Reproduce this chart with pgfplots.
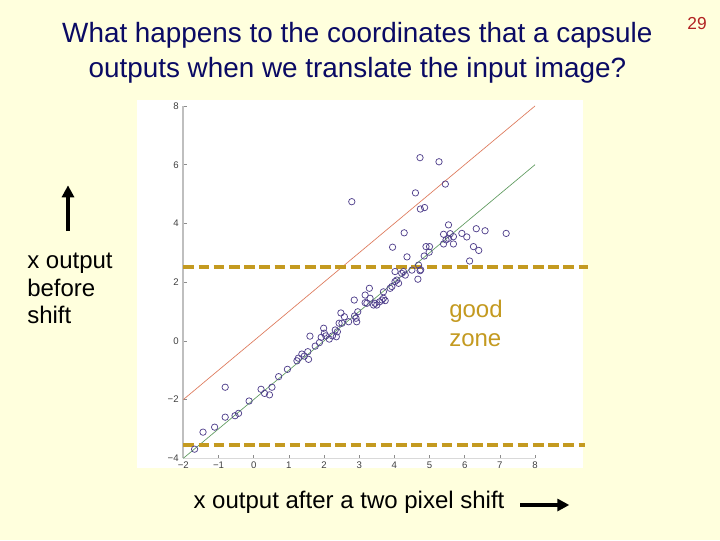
\documentclass[border=0pt]{standalone}
\usepackage{fontspec}
\setmainfont{Liberation Sans}
\usepackage{pgfplots}
\pgfplotsset{compat=1.18}
\usetikzlibrary{arrows.meta}
\definecolor{slidebg}{RGB}{255,255,221}
\definecolor{gold}{RGB}{196,154,32}
\definecolor{navy}{RGB}{10,10,100}
\definecolor{pagered}{RGB}{178,34,34}
\definecolor{ptcol}{RGB}{80,64,140}
\definecolor{redline}{RGB}{222,122,92}
\definecolor{greenline}{RGB}{95,155,95}

\pgfplotstableread{
x y
-1.68 -3.69
-1.44 -3.11
-1.11 -2.94
-0.81 -1.58
-0.81 -2.60
-0.53 -2.55
-0.43 -2.47
-0.13 -2.05
0.21 -1.65
0.31 -1.79
0.45 -1.84
0.52 -1.58
0.71 -1.22
0.96 -0.97
1.23 -0.68
1.27 -0.59
1.37 -0.45
1.44 -0.52
1.54 -0.37
1.56 -0.63
1.60 0.16
1.75 -0.18
1.87 -0.06
1.92 0.12
1.99 0.43
2.01 0.26
2.05 0.17
2.15 0.06
2.24 0.17
2.32 0.37
2.35 0.14
2.38 0.31
2.43 0.60
2.48 0.95
2.51 0.60
2.58 0.82
2.70 0.65
2.86 1.39
2.87 0.85
2.91 0.77
2.93 0.65
2.96 0.99
3.17 1.56
3.17 1.30
3.29 1.79
3.22 1.28
3.41 1.22
3.45 1.28
3.50 1.22
3.31 1.45
3.58 1.33
3.65 1.39
3.69 1.45
3.74 1.37
3.69 1.67
3.88 1.79
3.93 1.85
4.02 2.02
4.07 2.07
4.12 1.96
4.02 2.36
4.21 2.30
4.26 2.36
4.31 2.24
4.67 2.10
4.50 2.41
4.73 2.39
2.79 4.74
4.73 6.24
5.27 6.10
5.45 5.34
4.60 5.04
4.74 4.49
4.86 4.54
5.54 3.95
5.40 3.63
5.59 3.65
5.68 3.55
5.47 3.44
5.54 3.49
5.40 3.30
5.68 3.30
5.92 3.66
6.06 3.54
6.33 3.82
6.58 3.75
7.18 3.66
6.25 3.21
6.40 3.08
6.14 2.72
4.28 3.68
3.95 3.19
4.90 3.21
5.00 3.21
4.99 3.02
4.36 2.86
4.85 2.89
4.69 2.58
4.75 2.42
}\pts

\begin{document}
\begin{tikzpicture}[x=1pt,y=1pt]
\fill[slidebg] (0,0) rectangle (540,405);
\fill[white] (102.75,54) rectangle (437.25,330);
\begin{axis}[
  at={(137.5pt,61.3pt)}, anchor=south west,
  scale only axis, width=263.75pt, height=264.2pt,
  xmin=-2, xmax=8, ymin=-4, ymax=8,
  clip=false,
  axis x line*=bottom, axis y line*=left,
  x axis line style={black!15, line width=0.4pt, -},
  y axis line style={black!25, line width=1.6pt, -},
  xtick={-2,-1,0,1,2,3,4,5,6,7,8},
  xticklabels={−2,−1,0,1,2,3,4,5,6,7,8},
  ytick={-4,-2,0,2,4,6,8},
  yticklabels={−4,−2,0,2,4,6,8},
  tick align=inside,
  major tick length=2.5pt,
  tick style={black!45, line width=0.4pt},
  tick label style={font=\fontsize{7.2}{8}\selectfont, text=black!75},
  xticklabel style={yshift=1pt},
]
\addplot[redline, line width=0.5pt] coordinates {(-2,-2) (8,8)};
\addplot[greenline, line width=0.5pt] coordinates {(-2,-4) (8,6)};
\addplot[only marks, mark=o, mark size=2.4pt, mark options={ptcol, line width=0.55pt}] table[x=x,y=y] {\pts};
\addplot[gold, line width=3pt, dash pattern=on 8pt off 3.4pt] coordinates {(-2,2.5) (9.51,2.5)};
\addplot[gold, line width=3pt, dash pattern=on 8pt off 3.4pt] coordinates {(-2,-3.55) (9.43,-3.55)};
\end{axis}
\node[navy, font=\fontsize{20.9}{26.25}\selectfont, align=center] at (268,365.6) {What happens to the coordinates that a capsule\\outputs when we translate the input image?};
\node[pagered, font=\fontsize{13}{14}\selectfont] at (522.75,387.5) {29};
\node[anchor=west, font=\fontsize{18}{20.6}\selectfont, align=left, inner sep=0pt] at (20.25,188.6) {x output\\before\\shift};
\draw[line width=2.3pt, -{Triangle[length=9pt,width=9pt]}] (51,231.75) -- (51,266);
\node[font=\fontsize{18}{20.6}\selectfont] at (261.75,28.5) {x output after a two pixel shift};
\draw[line width=2.3pt, -{Triangle[length=9pt,width=9pt]}] (390,26.25) -- (427,26.25);
\node[gold, anchor=west, font=\fontsize{18}{21.75}\selectfont, align=left, inner sep=0pt] at (336.75,162.4) {good\\zone};
\end{tikzpicture}
\end{document}
